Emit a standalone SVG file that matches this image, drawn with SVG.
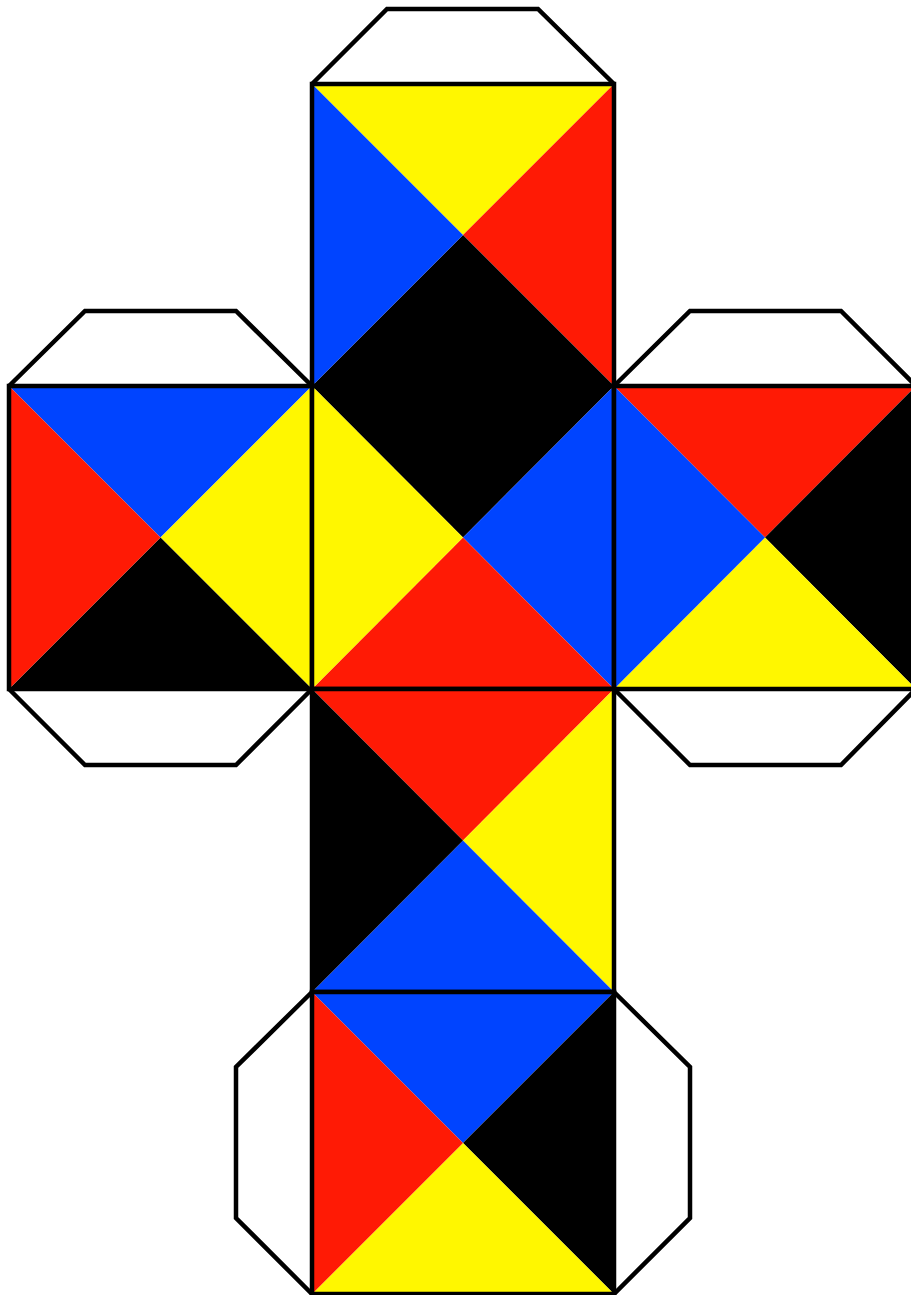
<svg xmlns="http://www.w3.org/2000/svg" width="911" height="1295" viewBox="0 0 911 1295">
<style>
.y{fill:#FFF700}.r{fill:#FF1A05}.b{fill:#0044FF}.k{fill:#000000}
.edge{fill:none;stroke:#000;stroke-width:4.5;stroke-linejoin:miter}
.tab{fill:#fff;stroke:#000;stroke-width:4.5;stroke-linejoin:miter}
</style>
<rect width="911" height="1295" fill="#fff"/>
<g id="tabs">
<polyline class="tab" points="312,84 387,9 538,9 614,84"/>
<polyline class="tab" points="9,386 85,311 236,311 312,386"/>
<polyline class="tab" points="9,689 85,765 236,765 312,689"/>
<polyline class="tab" points="614,386 690,311 841,311 916,386"/>
<polyline class="tab" points="614,689 690,765 841,765 916,689"/>
<polyline class="tab" points="312,992 236,1067 236,1218 312,1294"/>
<polyline class="tab" points="614,992 690,1067 690,1218 614,1294"/>
</g>
<g id="face-top">
<polygon class="y" points="312,84 614,84 463,235"/>
<polygon class="r" points="614,84 614,386 463,235"/>
<polygon class="k" points="614,386 312,386 463,235"/>
<polygon class="b" points="312,386 312,84 463,235"/>
<rect class="edge" x="312" y="84" width="302" height="302"/>
</g>
<g id="face-left">
<polygon class="b" points="9,386 312,386 160.5,537.5"/>
<polygon class="y" points="312,386 312,689 160.5,537.5"/>
<polygon class="k" points="312,689 9,689 160.5,537.5"/>
<polygon class="r" points="9,689 9,386 160.5,537.5"/>
<rect class="edge" x="9" y="386" width="303" height="303"/>
</g>
<g id="face-center">
<polygon class="k" points="312,386 614,386 463,537.5"/>
<polygon class="b" points="614,386 614,689 463,537.5"/>
<polygon class="r" points="614,689 312,689 463,537.5"/>
<polygon class="y" points="312,689 312,386 463,537.5"/>
<rect class="edge" x="312" y="386" width="302" height="303"/>
</g>
<g id="face-right">
<polygon class="r" points="614,386 916,386 765,537.5"/>
<polygon class="k" points="916,386 916,689 765,537.5"/>
<polygon class="y" points="916,689 614,689 765,537.5"/>
<polygon class="b" points="614,689 614,386 765,537.5"/>
<rect class="edge" x="614" y="386" width="302" height="303"/>
</g>
<g id="face-lower">
<polygon class="r" points="312,689 614,689 463,840.5"/>
<polygon class="y" points="614,689 614,992 463,840.5"/>
<polygon class="b" points="614,992 312,992 463,840.5"/>
<polygon class="k" points="312,992 312,689 463,840.5"/>
<rect class="edge" x="312" y="689" width="302" height="303"/>
</g>
<g id="face-bottom">
<polygon class="b" points="312,992 614,992 463,1143"/>
<polygon class="k" points="614,992 614,1294 463,1143"/>
<polygon class="y" points="614,1294 312,1294 463,1143"/>
<polygon class="r" points="312,1294 312,992 463,1143"/>
<rect class="edge" x="312" y="992" width="302" height="302"/>
</g>
</svg>
